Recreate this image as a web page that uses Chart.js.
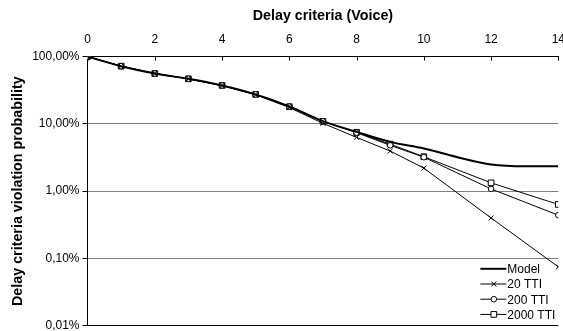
<!DOCTYPE html>
<html>
<head>
<meta charset="utf-8">
<script src="https://cdn.jsdelivr.net/npm/chart.js@4/dist/chart.umd.min.js"></script>
<style>
  html, body { margin: 0; padding: 0; background: #fff; overflow: hidden; }
  #wrap { width: 563px; height: 331px; overflow: hidden; }
</style>
</head>
<body>
<div id="wrap"><canvas id="delayChart" width="575" height="336"></canvas></div>
<script>
// delay criteria (TTI) and violation probability in %
const delays = [0, 1, 2, 3, 4, 5, 6, 7, 8, 9, 10, 12, 14];
const tti20 = [100, 72, 56, 46.5, 37, 27, 17.5, 10.2, 6.3, 3.95, 2.2, 0.40, 0.075];
const tti200 = [100, 72, 56, 46.7, 37.2, 27.4, 18, 10.9, 7.4, 4.8, 3.2, 1.08, 0.44];
const tti2000 = [100, 72, 56, 46.7, 37.2, 27.4, 18, 10.9, 7.5, 5.0, 3.25, 1.33, 0.635];

const modelDelays = [0, 1, 2, 3, 4, 5, 6, 7, 8, 9, 10, 11, 12, 13, 14];
const model = [100, 72, 56, 46.7, 37.2, 27.4, 18.2, 11.0, 7.6, 5.4, 4.3, 3.2, 2.5, 2.35, 2.35];

const yTicks = [0.01, 0.1, 1, 10, 100];

const pts = (xs, ys) => xs.map((x, i) => ({ x: x, y: ys[i] }));
const FONT = "'Liberation Sans', Arial, sans-serif";

// small tick marks pointing into the plot from the top axis
const innerTicks = {
    id: 'innerTicks',
    afterDraw(chart) {
        const x = chart.scales.x;
        const top = chart.chartArea.top;
        const c = chart.ctx;
        c.save();
        c.strokeStyle = '#000';
        c.lineWidth = 1;
        x.ticks.forEach(t => {
            const px = Math.round(x.getPixelForValue(t.value)) + 0.5;
            c.beginPath();
            c.moveTo(px, top);
            c.lineTo(px, top + 4);
            c.stroke();
        });
        c.restore();
    }
};

// legend drawn inside the plot, lower right corner
const insideLegend = {
    id: 'insideLegend',
    afterDraw(chart) {
        const c = chart.ctx;
        const area = chart.chartArea;
        const textX = area.right - 51;
        const lineX0 = textX - 27;
        let y = area.bottom - 57;
        c.save();
        c.font = '12px ' + FONT;
        c.textBaseline = 'middle';
        c.fillStyle = '#000';
        chart.data.datasets.forEach(ds => {
            c.strokeStyle = '#000';
            c.lineWidth = ds.borderWidth;
            c.beginPath();
            c.moveTo(lineX0, y);
            c.lineTo(textX - 1, y);
            c.stroke();
            if (ds.pointStyle && ds.pointRadius > 0) {
                c.lineWidth = 1;
                c.fillStyle = '#fff';
                Chart.helpers.drawPoint(c, {
                    pointStyle: ds.pointStyle,
                    radius: ds.pointRadius,
                    borderWidth: 1
                }, (lineX0 + textX) / 2, y);
                c.fillStyle = '#000';
            }
            c.fillText(ds.label, textX, y + 1);
            y += 15.2;
        });
        c.restore();
    }
};

new Chart(document.getElementById('delayChart'), {
    type: 'line',
    data: {
        datasets: [
            {
                label: 'Model',
                data: pts(modelDelays, model),
                borderColor: '#000',
                borderWidth: 2,
                pointRadius: 0,
                cubicInterpolationMode: 'monotone'
            },
            {
                label: '20 TTI',
                data: pts(delays, tti20),
                borderColor: '#000',
                borderWidth: 1,
                pointStyle: 'crossRot',
                pointRadius: 3.5,
                pointBorderWidth: 1,
                pointBackgroundColor: '#fff',
                pointBorderColor: '#000'
            },
            {
                label: '200 TTI',
                data: pts(delays, tti200),
                borderColor: '#000',
                borderWidth: 1,
                pointStyle: 'circle',
                pointRadius: 2.8,
                pointBorderWidth: 1,
                pointBackgroundColor: '#fff',
                pointBorderColor: '#000'
            },
            {
                label: '2000 TTI',
                data: pts(delays, tti2000),
                borderColor: '#000',
                borderWidth: 1,
                pointStyle: 'rect',
                pointRadius: 4,
                pointBorderWidth: 1,
                pointBackgroundColor: '#fff',
                pointBorderColor: '#000'
            }
        ]
    },
    options: {
        responsive: false,
        animation: false,
        layout: { padding: { left: 9, right: 0, top: 8, bottom: 0 } },
        plugins: {
            legend: { display: false },
            tooltip: { enabled: false }
        },
        scales: {
            x: {
                type: 'linear',
                position: 'top',
                min: 0,
                max: 14,
                ticks: { stepSize: 2, color: '#000', font: { family: FONT, size: 12 }, padding: 10 },
                grid: { drawOnChartArea: false, drawTicks: false },
                border: { color: '#000', width: 1 },
                title: {
                    display: true,
                    text: 'Delay criteria (Voice)',
                    color: '#000',
                    font: { family: FONT, size: 14.3, weight: 'bold', lineHeight: 0.85 },
                    padding: { top: 2, bottom: 0 }
                }
            },
            y: {
                type: 'logarithmic',
                min: 0.01,
                max: 100,
                afterBuildTicks: scale => {
                    scale.ticks = yTicks.map(v => ({ value: v }));
                },
                ticks: {
                    color: '#000',
                    font: { family: FONT, size: 12 },
                    padding: 3,
                    callback: v => v.toFixed(2).replace('.', ',') + '%'
                },
                grid: {
                    color: ctx => (ctx.tick && ctx.tick.value === 0.01) ? '#000' : '#808080',
                    tickColor: '#000',
                    tickLength: 5,
                    lineWidth: 1
                },
                border: { color: '#000', width: 1 },
                title: {
                    display: true,
                    text: 'Delay criteria violation probability',
                    color: '#000',
                    font: { family: FONT, size: 14.3, weight: 'bold' },
                    padding: { top: 0, bottom: 3 }
                }
            }
        }
    },
    plugins: [innerTicks, insideLegend]
});
</script>
</body>
</html>
